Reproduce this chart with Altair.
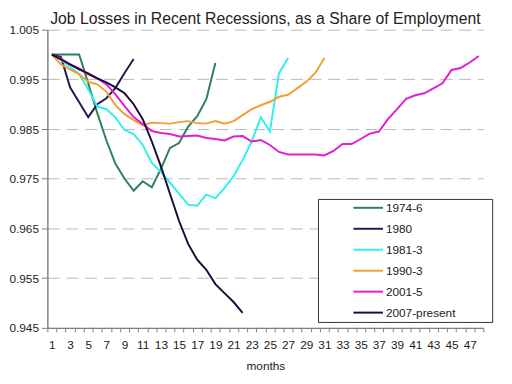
import altair as alt
import pandas as pd

series_names = ["1974-6", "1980", "1981-3", "1990-3", "2001-5", "2007-present"]
series_colors = ["#2F7F5F", "#1F1A4F", "#33EEEE", "#F0A030", "#E020D0", "#200A3A"]

s1974 = [1.0, 1.0, 1.0, 1.0, 0.9942, 0.9882, 0.9827, 0.978, 0.975, 0.9726,
         0.9745, 0.9733, 0.977, 0.9812, 0.9822, 0.9855, 0.9876, 0.991, 0.9983]
s1980 = [1.0, 0.9995, 0.9934, 0.9904, 0.9874, 0.990, 0.9912, 0.9933, 0.9963, 0.9991]
s1981 = [1.0, 0.9989, 0.9975, 0.9961, 0.993, 0.9895, 0.989, 0.9873, 0.9848, 0.984,
         0.9818, 0.9782, 0.9764, 0.9742, 0.972, 0.9698, 0.9696, 0.9718, 0.9711, 0.9731,
         0.9755, 0.9788, 0.9825, 0.9874, 0.9845, 0.9962, 0.9993]
s1990 = [1.0, 0.998, 0.997, 0.996, 0.9945, 0.994, 0.9925, 0.9898, 0.988, 0.9868,
         0.9858, 0.9863, 0.9862, 0.9861, 0.9864, 0.9866, 0.9862, 0.9861, 0.9866, 0.9861,
         0.9866, 0.9878, 0.989, 0.9898, 0.9905, 0.9915, 0.9919, 0.9932, 0.9945, 0.9963,
         0.9993]
s2001 = [1.0, 0.9992, 0.998, 0.9972, 0.996, 0.9952, 0.994, 0.992, 0.9896, 0.9874,
         0.986, 0.9846, 0.9842, 0.984, 0.9835, 0.9836, 0.9837, 0.9832, 0.983, 0.9827,
         0.9835, 0.9836, 0.9825, 0.9828, 0.9818, 0.9804, 0.9799, 0.9799, 0.9799, 0.9799,
         0.9797, 0.9806, 0.982, 0.982, 0.983, 0.9841, 0.9845, 0.987, 0.989, 0.9911,
         0.9918, 0.9922, 0.9932, 0.9942, 0.9969, 0.9973, 0.9984, 0.9997]
s2007 = [1.0, 0.999, 0.998, 0.997, 0.9962, 0.9952, 0.9944, 0.9934, 0.9922, 0.990,
         0.987, 0.9825, 0.9775, 0.972, 0.9665, 0.9619, 0.9587, 0.9567, 0.9538, 0.952,
         0.9502, 0.948]

y_ticks = [0.945, 0.955, 0.965, 0.975, 0.985, 0.995, 1.005]
x_label_months = list(range(1, 48, 2))
x_tick_bounds = [m + 0.5 for m in range(0, 49)]

rows = []
for name, vals in zip(series_names, [s1974, s1980, s1981, s1990, s2001, s2007]):
    for i, v in enumerate(vals):
        rows.append({"series": name, "month": i + 1, "value": v})
df = pd.DataFrame(rows)

FONT = "Liberation Sans"
xscale = alt.Scale(domain=[0.5, 48.5], nice=False, zero=False)
yscale = alt.Scale(domain=[0.945, 1.005], nice=False, zero=False)

yaxis = alt.Axis(values=y_ticks, format=".3f", title=None, grid=True,
                 gridColor="#b8b8b8", gridDash=[12, 7], gridWidth=1,
                 domainColor="#808080", domainWidth=1.5, tickColor="#808080",
                 tickSize=6, labelPadding=3, labelFontSize=12, labelFont=FONT,
                 labelColor="#222222")

pad = "\u00a0" * 10 + "\u200b"

lines = alt.Chart(df).mark_line(strokeWidth=2).encode(
    x=alt.X("month:Q", scale=xscale,
            axis=alt.Axis(values=x_tick_bounds, labels=False, title=None, grid=False,
                          orient="bottom",
                          domainColor="#808080", domainWidth=1.5, tickColor="#808080",
                          tickSize=4)),
    y=alt.Y("value:Q", scale=yscale, axis=yaxis),
    color=alt.Color("series:N",
                    scale=alt.Scale(domain=series_names, range=series_colors),
                    legend=alt.Legend(title=None, orient="none", legendX=275, legendY=172,
                                      fillColor="white", strokeColor="#333333",
                                      padding=3, symbolType="M-3,0H3", symbolSize=100,
                                      symbolStrokeWidth=2, symbolOffset=42,
                                      labelOffset=12, labelFontSize=12, labelFont=FONT,
                                      labelColor="#222222", rowPadding=9.3,
                                      labelExpr="datum.label + '" + pad + "'")),
)

labels = alt.Chart(df).mark_line(opacity=0).encode(
    x=alt.X("month:Q", scale=xscale,
            axis=alt.Axis(values=x_label_months, ticks=False, domain=False, grid=False,
                          orient="bottom",
                          labelPadding=12, labelFontSize=12, labelFont=FONT,
                          labelColor="#222222", title="months", titleFont=FONT,
                          titleFontSize=12, titleFontWeight="normal", titleColor="#222222",
                          titlePadding=10)),
    y=alt.Y("value:Q", scale=yscale, axis=yaxis),
)

chart = alt.layer(lines, labels).resolve_axis(x="independent").properties(
    width=443, height=303,
    autosize="none",
    padding={"left": 40, "top": 19, "right": 21, "bottom": 54},
    title=alt.Title("Job Losses in Recent Recessions, as a Share of Employment",
                    fontSize=16, font=FONT, fontWeight="normal", color="#222222",
                    anchor="middle", offset=-3),
).configure_view(stroke=None)

chart.save("out.html", embed_options={"renderer": "svg", "actions": False})
